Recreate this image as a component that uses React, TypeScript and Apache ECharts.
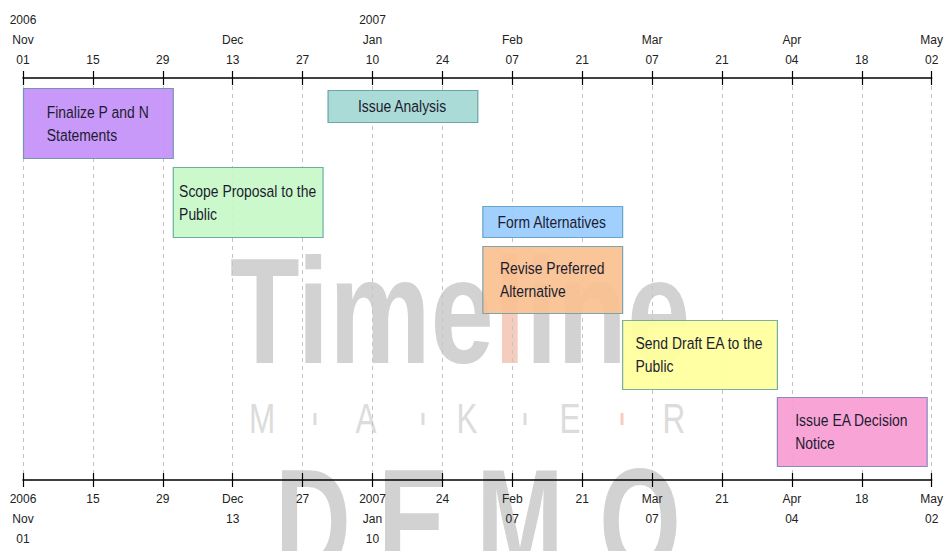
import React, { useEffect, useRef } from "react";
import * as echarts from "echarts";

// ---- data ----
const axisStart = "2006-11-01";
const axisDays = 182;
const tickStepDays = 14;
const tickLabels = [
  "2006\nNov\n01", "15", "29", "Dec\n13", "27", "2007\nJan\n10", "24",
  "Feb\n07", "21", "Mar\n07", "21", "Apr\n04", "18", "May\n02",
];

const taskNames = [
  "Finalize P and N\nStatements",
  "Scope Proposal to the\nPublic",
  "Issue Analysis",
  "Form Alternatives",
  "Revise Preferred\nAlternative",
  "Send Draft EA to the\nPublic",
  "Issue EA Decision\nNotice",
];
const taskStart = ["2006-11-01", "2006-12-01", "2007-01-01", "2007-02-01", "2007-02-01", "2007-03-01", "2007-04-01"];
const taskEnd = ["2006-12-01", "2006-12-31", "2007-01-31", "2007-03-01", "2007-03-01", "2007-04-01", "2007-05-01"];
// vertical lane placement (in lane units below the top axis)
const laneTop = [10, 89, 12, 128, 168, 242, 319];
const laneBottom = [80, 159, 44, 159, 235, 311, 388];
const laneMax = 402;

const taskFill = ["#C490F8", "#C8F8C8", "#A4D8D2", "#99CCFF", "#F8C090", "#FFFF9C", "#F89CD4"];
const taskStroke = ["#6A90B0", "#5FA8A0", "#5F9FA0", "#5F9FC0", "#6FA0B0", "#6FA8A0", "#8080C0"];

// ---- helpers ----
const dayMs = 86400000;
const toDay = (s: string) =>
  Math.round((Date.UTC(+s.slice(0, 4), +s.slice(5, 7) - 1, +s.slice(8, 10)) -
    Date.UTC(+axisStart.slice(0, 4), +axisStart.slice(5, 7) - 1, +axisStart.slice(8, 10))) / dayMs);

const FONT = "'Liberation Sans', Arial, sans-serif";
const TASK_FONT_SIZE = 17;
const TASK_SCALE_X = 0.82;

let measureCtx: CanvasRenderingContext2D | null = null;
const measure = (t: string) => {
  if (!measureCtx) {
    const c = document.createElement("canvas");
    measureCtx = c.getContext("2d");
  }
  if (!measureCtx) return t.length * 8;
  measureCtx.font = `${TASK_FONT_SIZE}px ${FONT}`;
  return measureCtx.measureText(t).width;
};

export default function App() {
  const ref = useRef<HTMLDivElement>(null);

  useEffect(() => {
    if (!ref.current) return;
    const chart = echarts.init(ref.current, undefined, { renderer: "svg" });

    const data = taskNames.map((_, i) => [toDay(taskStart[i]), toDay(taskEnd[i]), laneTop[i], laneBottom[i], i]);

    const baseX = {
      type: "value" as const,
      min: 0,
      max: axisDays,
      interval: tickStepDays,
    };
    const labelStyle = {
      fontFamily: FONT,
      fontSize: 12,
      color: "#222",
      lineHeight: 20,
      formatter: (v: number) => tickLabels[Math.round(v / tickStepDays)] ?? "",
    };

    const wmGray = "#d2d2d2";
    const wmLight = "#dcdcdc";
    const wmRed = "#f4cdbf";

    const makerLetters = ["M", "A", "K", "E", "R"];
    const makerX = [262, 366, 467, 570, 674];
    const sepX = [315, 423, 525, 622];
    const demoLetters = ["D", "E", "M", "O"];
    const demoX = [313, 413, 520, 640];

    const graphic: any[] = [
      {
        type: "text",
        x: 230,
        y: 311,
        scaleX: 0.76,
        z: -10,
        silent: true,
        style: {
          text: "{a|Time}{b|l}{a|ine}",
          verticalAlign: "middle",
          align: "left",
          rich: {
            a: { fontFamily: FONT, fontWeight: "bold", fontSize: 150, fill: wmGray },
            b: { fontFamily: FONT, fontWeight: "bold", fontSize: 150, fill: wmRed },
          },
        },
      },
      ...makerLetters.map((l, i) => ({
        type: "text",
        x: makerX[i],
        y: 418,
        scaleX: 0.75,
        z: -10,
        silent: true,
        style: {
          text: l,
          align: "center",
          verticalAlign: "middle",
          fontFamily: FONT,
          fontSize: 42,
          fill: wmLight,
        },
      })),
      ...sepX.map((x, i) => ({
        type: "rect",
        z: -10,
        silent: true,
        shape: { x: x - 1.5, y: 413, width: 3, height: 12 },
        style: { fill: i === 3 ? wmRed : wmLight },
      })),
      ...demoLetters.map((l, i) => ({
        type: "text",
        x: demoX[i],
        y: 522,
        scaleX: 0.7,
        z: -10,
        silent: true,
        style: {
          text: l,
          align: "center",
          verticalAlign: "middle",
          fontFamily: FONT,
          fontWeight: "bold",
          fontSize: 150,
          fill: wmGray,
        },
      })),
    ];

    chart.setOption({
      animation: false,
      backgroundColor: "#ffffff",
      grid: { left: 23, right: 12, top: 78, bottom: 71, containLabel: false },
      xAxis: [
        {
          ...baseX,
          position: "top",
          axisLine: { show: true, lineStyle: { color: "#000", width: 1.5 } },
          axisTick: { show: true, inside: false, length: 7, lineStyle: { color: "#000", width: 1.2 } },
          axisLabel: { ...labelStyle, margin: 8 },
          splitLine: { show: true, lineStyle: { color: "#c4c4c4", type: [4, 4], width: 1 } },
        },
        {
          ...baseX,
          position: "top",
          axisLine: { show: false },
          axisTick: { show: true, inside: true, length: 7, lineStyle: { color: "#000", width: 1.2 } },
          axisLabel: { show: false },
          splitLine: { show: false },
        },
        {
          ...baseX,
          position: "bottom",
          axisLine: { show: true, lineStyle: { color: "#000", width: 1.5 } },
          axisTick: { show: true, inside: false, length: 7, lineStyle: { color: "#000", width: 1.2 } },
          axisLabel: { ...labelStyle, margin: 9 },
          splitLine: { show: false },
        },
        {
          ...baseX,
          position: "bottom",
          axisLine: { show: false },
          axisTick: { show: true, inside: true, length: 7, lineStyle: { color: "#000", width: 1.2 } },
          axisLabel: { show: false },
          splitLine: { show: false },
        },
      ],
      yAxis: { type: "value", min: 0, max: laneMax, inverse: true, show: false, splitLine: { show: false } },
      graphic,
      series: [
        {
          type: "custom",
          xAxisIndex: 0,
          yAxisIndex: 0,
          data,
          z: 10,
          renderItem: (params: any, api: any) => {
            const i = api.value(4);
            const p0 = api.coord([api.value(0), api.value(2)]);
            const p1 = api.coord([api.value(1), api.value(3)]);
            const x = p0[0];
            const y = p0[1];
            const w = p1[0] - p0[0];
            const h = p1[1] - p0[1];
            const lines = taskNames[i].split("\n");
            const blockW = Math.max(...lines.map(measure)) * TASK_SCALE_X;
            return {
              type: "group",
              children: [
                {
                  type: "rect",
                  shape: { x: x + 0.5, y: y + 0.5, width: w, height: h },
                  style: { fill: taskFill[i], stroke: taskStroke[i], lineWidth: 1.2, opacity: 0.92 },
                },
                {
                  type: "text",
                  x: x + w / 2 - blockW / 2,
                  y: y + h / 2,
                  scaleX: TASK_SCALE_X,
                  style: {
                    text: taskNames[i],
                    fontFamily: FONT,
                    fontSize: TASK_FONT_SIZE,
                    lineHeight: 23,
                    fill: "#1c1c30",
                    align: "left",
                    verticalAlign: "middle",
                  },
                },
              ],
            };
          },
        },
      ],
    });

    return () => chart.dispose();
  }, []);

  return (
    <div
      ref={ref}
      style={{ position: "absolute", left: 0, top: 0, width: 946, height: 551, background: "#fff" }}
    />
  );
}
